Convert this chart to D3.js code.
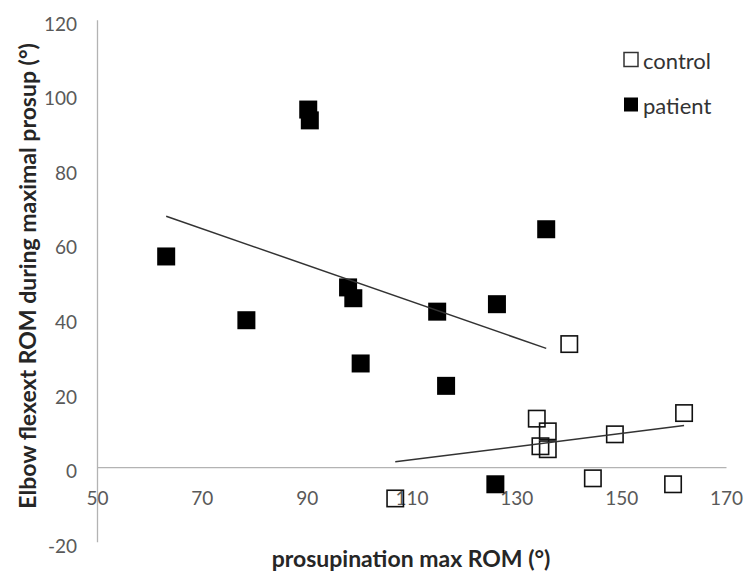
<!DOCTYPE html>
<html>
<head>
<meta charset="utf-8">
<script src="https://cdn.jsdelivr.net/npm/d3@7"></script>
<style>
  body { margin: 0; background: #fff; }
  svg { display: block; font-family: Lato, "Open Sans", sans-serif; }
</style>
</head>
<body>
<div id="chart"></div>
<script>
// patient group
const patientX = [63.2, 78.5, 90.3, 90.6, 97.9, 98.9, 100.3, 114.9, 116.6, 126.3, 135.7, 126.0];
const patientY = [56.5, 39.4, 95.9, 93.0, 48.2, 45.3, 27.8, 41.7, 21.8, 43.7, 63.8, -4.6];
// control group
const controlX = [140.1, 133.9, 136.0, 134.6, 136.0, 148.8, 162.0, 144.6, 159.9, 106.9];
const controlY = [33.0, 13.0, 9.6, 5.6, 4.8, 8.8, 14.5, -3.0, -4.6, -8.4];

const xTicks = [50, 70, 90, 110, 130, 150, 170];
const yTicks = [-20, 0, 20, 40, 60, 80, 100, 120];

const width = 746, height = 575;

const svg = d3.select("#chart")
    .append("svg")
    .attr("width", width)
    .attr("height", height);

const x = d3.scaleLinear().domain([50, 170]).range([97, 726]);
const y = d3.scaleLinear().domain([-20, 120]).range([541.7, 19.7]);

const axisColor = "#b3b3b3";
const tickColor = "#595959";
const plain = d => String(d); // hyphen minus, like the original

// y axis (vertical line at x=50)
const yAxis = svg.append("g")
    .attr("transform", `translate(${x(50)},0)`)
    .call(d3.axisLeft(y).tickValues(yTicks).tickFormat(plain).tickSize(0).tickPadding(20));
yAxis.select(".domain").attr("stroke", axisColor).attr("stroke-width", 1.3);
yAxis.selectAll("text")
    .attr("fill", tickColor)
    .attr("font-size", "19px")
    .attr("font-family", "Lato, sans-serif")
    .attr("dy", "0.55em");

// x axis sits at y = 0
const xAxis = svg.append("g")
    .attr("transform", `translate(0,${y(0)})`)
    .call(d3.axisBottom(x).tickValues(xTicks).tickFormat(plain).tickSize(0).tickPadding(24));
xAxis.select(".domain").attr("stroke", axisColor).attr("stroke-width", 1.3);
xAxis.selectAll("text")
    .attr("fill", tickColor)
    .attr("font-size", "19px")
    .attr("font-family", "Lato, sans-serif");

// axis titles
svg.append("text")
    .attr("x", 411)
    .attr("y", 567)
    .attr("text-anchor", "middle")
    .attr("font-weight", "bold")
    .attr("font-size", "23px")
    .attr("fill", "#262626")
    .text("prosupination max ROM (°)");

svg.append("text")
    .attr("transform", "translate(36,276) rotate(-90)")
    .attr("text-anchor", "middle")
    .attr("font-weight", "bold")
    .attr("font-size", "23px")
    .attr("fill", "#262626")
    .text("Elbow flexext ROM during maximal prosup (°)");

// least squares trendline, drawn over the data range
function trend(xs, ys) {
    const mx = d3.mean(xs), my = d3.mean(ys);
    let sxy = 0, sxx = 0;
    xs.forEach((v, i) => { sxy += (v - mx) * (ys[i] - my); sxx += (v - mx) * (v - mx); });
    const b = sxy / sxx, a = my - b * mx;
    const x0 = d3.min(xs), x1 = d3.max(xs);
    return [[x0, a + b * x0], [x1, a + b * x1]];
}

const line = d3.line().x(d => x(d[0])).y(d => y(d[1]));
const size = 18;

const patients = patientX.map((v, i) => [v, patientY[i]]);
const controls = controlX.map((v, i) => [v, controlY[i]]);

svg.append("g").selectAll("rect")
    .data(patients)
    .enter()
    .append("rect")
    .attr("x", d => x(d[0]) - size / 2)
    .attr("y", d => y(d[1]) - size / 2)
    .attr("width", size)
    .attr("height", size)
    .attr("fill", "#000");

svg.append("g").selectAll("rect")
    .data(controls)
    .enter()
    .append("rect")
    .attr("x", d => x(d[0]) - size / 2 + 0.8)
    .attr("y", d => y(d[1]) - size / 2 + 0.8)
    .attr("width", size - 1.6)
    .attr("height", size - 1.6)
    .attr("fill", "none")
    .attr("stroke", "#111")
    .attr("stroke-width", 1.6);

[trend(patientX, patientY), trend(controlX, controlY)].forEach(t => {
    svg.append("path")
        .attr("d", line(t))
        .attr("fill", "none")
        .attr("stroke", "#333")
        .attr("stroke-width", 1.5);
});

// legend
const legend = [
    { name: "control", fill: "none", cy: 59.5 },
    { name: "patient", fill: "#000", cy: 104.5 }
];
const lg = svg.append("g");
legend.forEach(d => {
    lg.append("rect")
        .attr("x", 624)
        .attr("y", d.cy - 7)
        .attr("width", 14)
        .attr("height", 14)
        .attr("fill", d.fill)
        .attr("stroke", d.fill === "none" ? "#333" : "none")
        .attr("stroke-width", 1.5);
    lg.append("text")
        .attr("x", 643)
        .attr("y", d.cy + 9)
        .attr("font-size", "22px")
        .attr("fill", "#333")
        .text(d.name);
});
</script>
</body>
</html>
